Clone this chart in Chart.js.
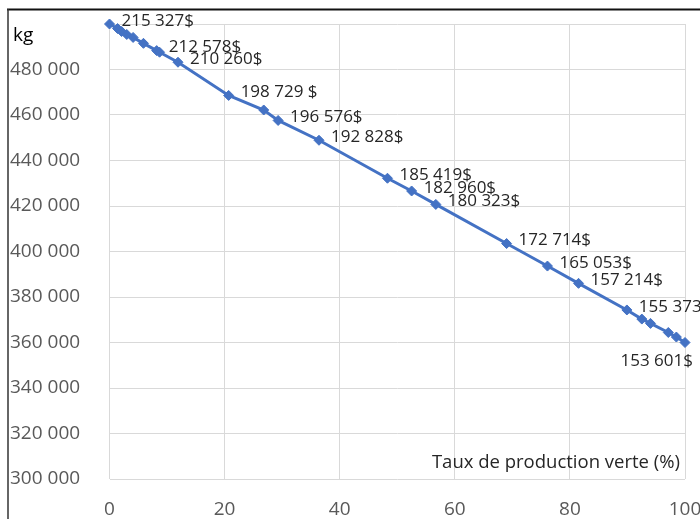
<!DOCTYPE html>
<html><head><meta charset="utf-8">
<script src="https://cdn.jsdelivr.net/npm/chart.js@4"></script>
<style>html,body{margin:0;padding:0;background:#fff;} #wrap{position:relative;width:700px;height:519px;}</style>
</head><body><div id="wrap"><canvas id="c" width="700" height="519"></canvas></div>
<script>
// ---- Data ----
const greenRate = [0, 1.4, 2.1, 3.0, 4.1, 5.9, 8.2, 8.7, 11.9, 20.7, 26.8, 29.3, 36.4, 48.3, 52.5, 56.7, 69.0, 76.1, 81.5, 89.9, 92.5, 94.0, 97.1, 98.5, 100];
const massKg = [500000, 498000, 496700, 495400, 494100, 491500, 488300, 487600, 483200, 468600, 462200, 457600, 448900, 432200, 426600, 420700, 403500, 393600, 386000, 374300, 370300, 368400, 364400, 362400, 360000];
const costLabels = ['215 327$', null, null, null, null, null, '212 578$', null, '210 260$', '198 729 $', null, '196 576$', '192 828$', '185 419$', '182 960$', '180 323$', '172 714$', '165 053$', '157 214$', '155 373$', null, null, null, null, '153 601$'];
const xTicks = [0, 20, 40, 60, 80, 100];
const yTitle = 'kg';
const xTitle = 'Taux de production verte (%)';

const points = greenRate.map((x, i) => ({x: x, y: massKg[i]}));
const FONT = "'Open Sans', sans-serif";

function fmt(v) {
  return String(v).replace(/\B(?=(\d{3})+(?!\d))/g, ' ');
}

const decor = {
  id: 'decor',
  beforeDraw(chart) {
    const ctx = chart.ctx;
    ctx.save();
    ctx.fillStyle = '#fff';
    ctx.fillRect(0, 0, chart.width, chart.height);
    ctx.restore();
  },
  afterDraw(chart) {
    const ctx = chart.ctx;
    const meta = chart.getDatasetMeta(0);
    ctx.save();
    // frame lines (top & left)
    ctx.strokeStyle = '#111';
    ctx.lineWidth = 2;
    ctx.beginPath(); ctx.moveTo(7, 9.5); ctx.lineTo(chart.width, 9.5); ctx.stroke();
    ctx.strokeStyle = '#333';
    ctx.lineWidth = 1.5;
    ctx.beginPath(); ctx.moveTo(8, 9); ctx.lineTo(8, chart.height); ctx.stroke();
    // data labels
    ctx.font = '17px ' + FONT;
    ctx.fillStyle = '#262626';
    ctx.textBaseline = 'middle';
    const last = costLabels.length - 1;
    costLabels.forEach((t, i) => {
      if (!t) return;
      const p = meta.data[i];
      if (i === last) {
        ctx.textAlign = 'right';
        ctx.fillText(t, p.x + 8, p.y + 19);
      } else {
        ctx.textAlign = 'left';
        ctx.fillText(t, p.x + 12, p.y - 3);
      }
    });
    // axis titles
    const area = chart.chartArea;
    ctx.fillStyle = '#000';
    ctx.font = '19px ' + FONT;
    ctx.textAlign = 'left';
    ctx.fillText(yTitle, 13, 36);
    ctx.fillStyle = '#262626';
    ctx.font = '18.5px ' + FONT;
    ctx.textAlign = 'right';
    ctx.fillText(xTitle, area.right - 5, area.bottom - 16);
    ctx.restore();
  }
};

new Chart(document.getElementById('c'), {
  type: 'scatter',
  data: {
    datasets: [{
      data: points,
      showLine: true,
      borderColor: '#4472C4',
      backgroundColor: '#4472C4',
      borderWidth: 3,
      pointStyle: 'rectRot',
      pointRadius: 5,
      pointBorderWidth: 1,
      tension: 0,
      clip: false
    }]
  },
  options: {
    responsive: false,
    animation: false,
    devicePixelRatio: 1,
    layout: {padding: {left: 10, top: 24, right: 15, bottom: 0}},
    plugins: {legend: {display: false}, tooltip: {enabled: false}},
    scales: {
      x: {
        type: 'linear', min: 0, max: 100,
        afterBuildTicks: s => { s.ticks = xTicks.map(v => ({value: v})); },
        afterFit: s => { s.height = 40; s.paddingRight = 0; s.paddingLeft = 0; },
        grid: {color: '#d9d9d9', lineWidth: 1, drawTicks: false},
        border: {display: false},
        ticks: {color: '#595959', font: {family: FONT, size: 19}, padding: 19, maxRotation: 0}
      },
      y: {
        min: 300000, max: 500000,
        afterFit: s => { s.width = 99.5; s.paddingTop = 0; s.paddingBottom = 0; },
        grid: {color: '#d9d9d9', lineWidth: 1, drawTicks: false},
        border: {display: false},
        ticks: {
          stepSize: 20000, color: '#595959', crossAlign: 'far',
          font: {family: FONT, size: 19},
          callback: v => v === 500000 ? '' : fmt(v)
        }
      }
    }
  },
  plugins: [decor]
});
</script>
</body></html>
